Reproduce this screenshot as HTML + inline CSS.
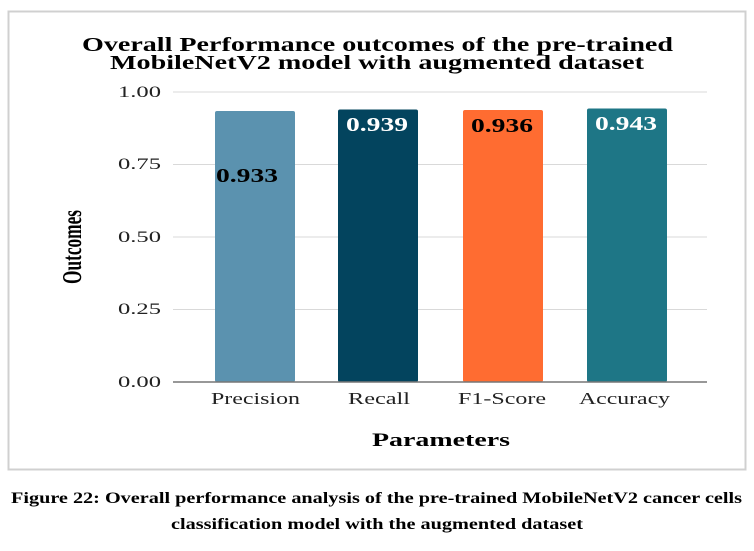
<!DOCTYPE html>
<html><head><style>
body{margin:0;width:754px;height:546px;background:#fff;overflow:hidden;font-family:"Liberation Serif",serif;}
</style></head><body>
<svg width="754" height="546" xmlns="http://www.w3.org/2000/svg" font-family="Liberation Serif, serif">
<rect x="8.5" y="11.5" width="737" height="458" fill="#fff" stroke="#d0d0d0" stroke-width="2"/>
<text x="82" y="51" font-size="20" font-weight="bold" textLength="591" lengthAdjust="spacingAndGlyphs">Overall Performance outcomes of the pre-trained</text>
<text x="110" y="69" font-size="20" font-weight="bold" textLength="534" lengthAdjust="spacingAndGlyphs">MobileNetV2 model with augmented dataset</text>
<g stroke="#d9d9d9" stroke-width="1">
<line x1="173" x2="707" y1="92" y2="92"/>
<line x1="173" x2="707" y1="164.5" y2="164.5"/>
<line x1="173" x2="707" y1="237" y2="237"/>
<line x1="173" x2="707" y1="309.5" y2="309.5"/>
</g>
<g font-size="16" fill="#222">
<text x="118" y="97" textLength="43" lengthAdjust="spacingAndGlyphs">1.00</text>
<text x="118" y="169" textLength="43" lengthAdjust="spacingAndGlyphs">0.75</text>
<text x="118" y="242" textLength="43" lengthAdjust="spacingAndGlyphs">0.50</text>
<text x="118" y="314" textLength="43" lengthAdjust="spacingAndGlyphs">0.25</text>
<text x="118" y="387" textLength="43" lengthAdjust="spacingAndGlyphs">0.00</text>
</g>
<rect x="215" y="111" width="80" height="271" rx="2" fill="#5b92af"/>
<rect x="338" y="109.5" width="80" height="272.5" rx="2" fill="#03445e"/>
<rect x="463" y="110" width="80" height="272" rx="2" fill="#ff6c31"/>
<rect x="587" y="108.5" width="80" height="273.5" rx="2" fill="#1e7686"/>
<line x1="173" x2="707" y1="382" y2="382" stroke="#777" stroke-width="1.5"/>
<g font-size="20" font-weight="bold">
<text x="216" y="182" textLength="62" lengthAdjust="spacingAndGlyphs">0.933</text>
<text x="346" y="131" fill="#fff" textLength="62" lengthAdjust="spacingAndGlyphs">0.939</text>
<text x="471" y="132" textLength="62" lengthAdjust="spacingAndGlyphs">0.936</text>
<text x="595" y="130" fill="#fff" textLength="62" lengthAdjust="spacingAndGlyphs">0.943</text>
</g>
<g font-size="17" fill="#222">
<text x="211" y="404" textLength="89" lengthAdjust="spacingAndGlyphs">Precision</text>
<text x="348" y="404" textLength="62" lengthAdjust="spacingAndGlyphs">Recall</text>
<text x="458" y="404" textLength="88" lengthAdjust="spacingAndGlyphs">F1-Score</text>
<text x="579" y="404" textLength="91" lengthAdjust="spacingAndGlyphs">Accuracy</text>
</g>
<text x="372" y="446" font-size="19" font-weight="bold" textLength="138" lengthAdjust="spacingAndGlyphs">Parameters</text>
<text transform="translate(81,284) rotate(-90)" font-size="27" font-weight="bold" textLength="74" lengthAdjust="spacingAndGlyphs">Outcomes</text>
<text x="11" y="503" font-size="16" font-weight="bold" textLength="731" lengthAdjust="spacingAndGlyphs">Figure 22: Overall performance analysis of the pre-trained MobileNetV2 cancer cells</text>
<text x="171" y="529" font-size="16" font-weight="bold" textLength="412" lengthAdjust="spacingAndGlyphs">classification model with the augmented dataset</text>
</svg>
</body></html>
